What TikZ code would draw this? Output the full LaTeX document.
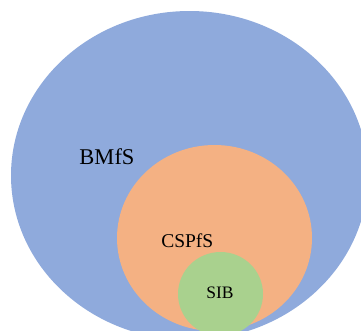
\documentclass[tikz,border=0pt]{standalone}
\usepackage{fontspec}
\setmainfont{Liberation Serif}
\definecolor{setblue}{HTML}{8FAADC}
\definecolor{setorange}{HTML}{F4B183}
\definecolor{setgreen}{HTML}{A9D18E}
\tikzset{setlabel/.style={anchor=base, inner sep=0pt, text=black}}
\begin{document}
\begin{tikzpicture}[x=1pt,y=-1pt]
\useasboundingbox (0,0) rectangle (361,330);
\clip (0,0) rectangle (361,330);
\fill[setblue] (189.5,175.5) ellipse [x radius=178.5, y radius=164.5];
\fill[setorange] (214.5,238) ellipse [x radius=97.5, y radius=93];
\fill[setgreen] (220.5,294) ellipse [x radius=42.5, y radius=42];
\node[setlabel, font=\fontsize{22.5}{26}\selectfont] (bmfs) at (107,164.3) {BMfS};
\node[setlabel, font=\fontsize{19.5}{22}\selectfont] (cspfs) at (187.3,247) {CSPfS};
\node[setlabel, font=\fontsize{17.5}{20}\selectfont] (sib) at (220,298.7) {SIB};
\end{tikzpicture}
\end{document}
